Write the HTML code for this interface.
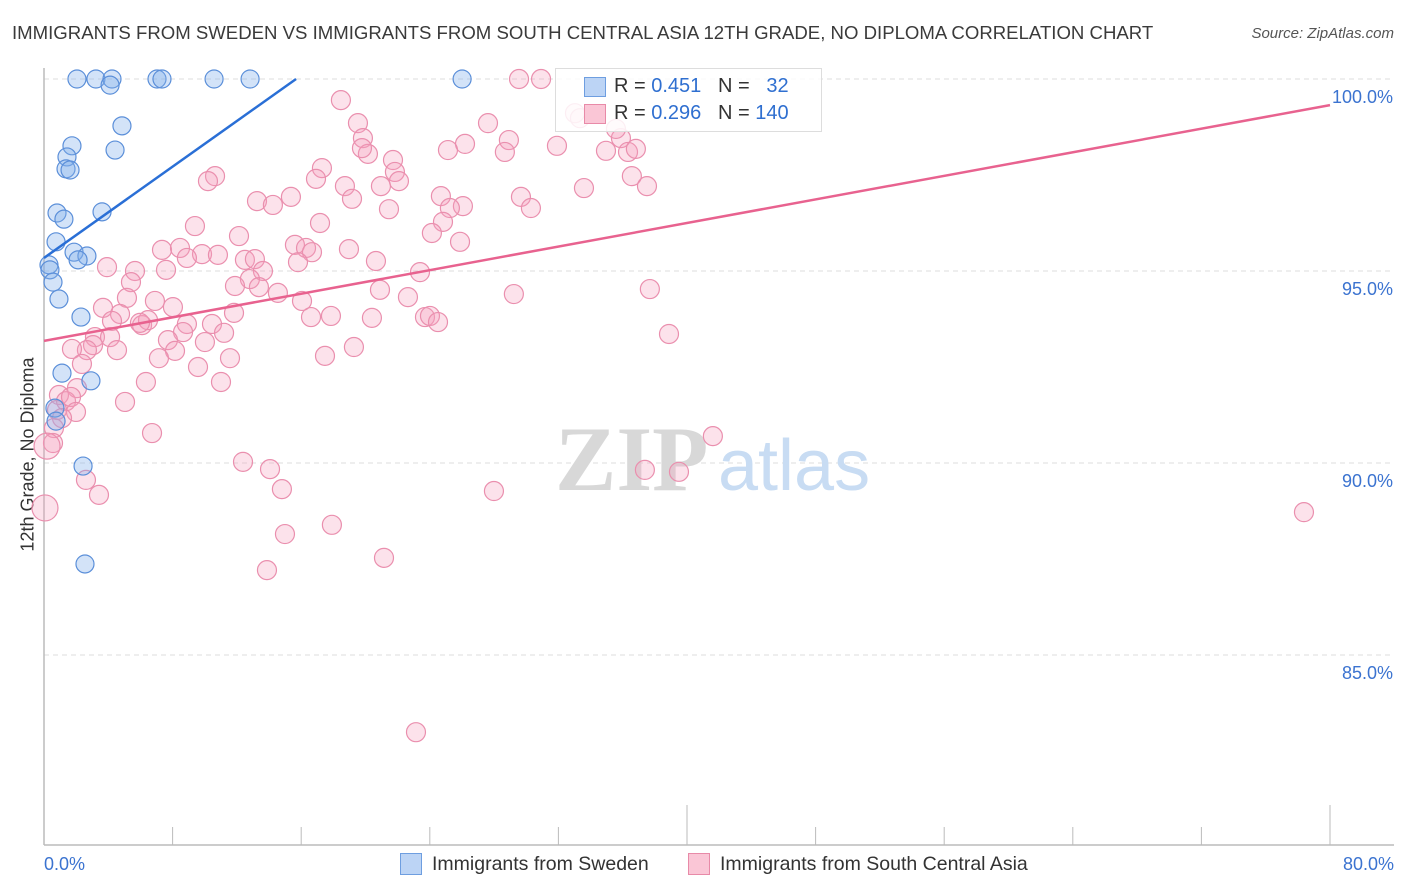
<!DOCTYPE html>
<html><head><meta charset="utf-8"><style>
body{margin:0;background:#fff;font-family:"Liberation Sans",sans-serif}
#wrap{position:relative;width:1406px;height:892px;overflow:hidden}
.t{position:absolute;white-space:nowrap}
</style></head><body>
<div id="wrap">
<div class="t" style="left:12px;top:22px;font-size:18.6px;color:#3a3a3a">IMMIGRANTS FROM SWEDEN VS IMMIGRANTS FROM SOUTH CENTRAL ASIA 12TH GRADE, NO DIPLOMA CORRELATION CHART</div>
<div class="t" style="right:12px;top:25px;font-size:15px;color:#555;font-style:italic">Source: ZipAtlas.com</div>
<div class="t" style="left:-102px;top:444px;width:260px;text-align:center;font-size:18px;color:#333;transform:rotate(-90deg)">12th Grade, No Diploma</div>
<svg id="svg" width="1406" height="892" style="position:absolute;left:0;top:0"></svg>
<div style="position:absolute;left:555px;top:68px;width:265px;height:62px;border:1px solid #ddd;background:rgba(255,255,255,.85)">
<div style="position:absolute;left:28px;top:8px;width:20px;height:18px;background:#bcd4f5;border:1px solid #6e9ee0"></div>
<div class="t" style="left:58px;top:6px;font-size:20px;color:#333">R = <span style="color:#2f6fd0">0.451</span>&nbsp;&nbsp;&nbsp;N = &nbsp;&nbsp;<span style="color:#2f6fd0">32</span></div>
<div style="position:absolute;left:28px;top:35px;width:20px;height:18px;background:#fac6d6;border:1px solid #e88aa8"></div>
<div class="t" style="left:58px;top:33px;font-size:20px;color:#333">R = <span style="color:#2f6fd0">0.296</span>&nbsp;&nbsp;&nbsp;N = <span style="color:#2f6fd0">140</span></div>
</div>
<div class="t" style="left:400px;top:853px;width:20px;height:20px;background:#bcd4f5;border:1px solid #6e9ee0"></div>
<div class="t" style="left:432px;top:853px;font-size:19.5px;color:#333">Immigrants from Sweden</div>
<div class="t" style="left:688px;top:853px;width:20px;height:20px;background:#fac6d6;border:1px solid #e88aa8"></div>
<div class="t" style="left:720px;top:853px;font-size:19.5px;color:#333">Immigrants from South Central Asia</div>
</div>
<script>
const xTicks=[0,8,16,24,32,40,48,56,64,72,80];
const yTicks=[100,95,90,85];
const yTickLabels=["100.0%","95.0%","90.0%","85.0%"];
const xEndLabels=["0.0%","80.0%"];
const swedenX=[2.05,3.23,4.23,4.11,7.03,7.34,10.58,12.82,26.01,4.85,4.42,1.74,1.43,1.37,1.62,0.81,1.24,3.61,0.75,1.87,2.67,2.12,0.31,0.37,0.56,0.93,2.30,1.12,2.92,0.68,0.75,2.43,2.55];
const swedenY=[100,100,100,99.84,100,100,100,100,100,98.78,98.15,98.26,97.97,97.66,97.63,96.51,96.35,96.54,95.76,95.49,95.39,95.29,95.16,95.03,94.71,94.27,93.80,92.34,92.14,91.43,91.09,89.92,87.37];
const asiaX=[29.55,30.92,18.47,33.03,33.34,27.62,19.53,19.84,26.19,28.92,31.91,35.89,34.96,36.33,36.82,35.58,25.13,28.67,20.15,19.78,21.71,21.83,17.29,36.57,37.51,33.59,24.69,22.08,18.72,20.96,15.36,16.92,13.25,14.24,10.64,10.20,29.67,30.29,26.06,25.25,19.16,21.46,24.82,17.17,9.39,24.13,12.13,25.88,15.61,18.97,16.30,16.67,7.34,8.46,9.83,10.82,8.89,12.50,13.12,15.80,20.65,3.92,7.59,5.66,13.62,12.81,5.41,11.88,13.37,23.39,37.69,29.23,20.90,22.64,14.55,5.16,6.90,16.05,3.67,8.02,11.82,4.73,4.23,6.10,6.47,5.97,8.89,10.45,8.65,16.61,17.85,20.40,23.70,24.01,24.51,38.88,7.71,11.20,3.17,4.11,3.05,2.67,10.01,1.74,4.54,8.15,19.28,7.15,11.57,17.48,2.36,9.58,6.34,11.01,2.05,0.93,1.37,1.68,5.04,0.81,1.99,1.12,0.62,0.56,0.19,6.72,41.61,12.38,14.06,37.38,39.50,2.61,14.80,3.42,27.99,0.06,78.38,17.91,14.99,21.15,13.87,23.14];
const asiaY=[100,100,99.45,99.11,98.98,98.85,98.85,98.46,98.31,98.41,98.26,98.46,98.13,98.10,98.18,98.70,98.15,98.10,98.05,98.20,97.89,97.58,97.68,97.47,97.21,97.16,96.95,97.34,97.21,97.21,96.93,97.40,96.82,96.72,97.47,97.34,96.93,96.64,96.69,96.64,96.88,96.61,96.28,96.25,96.17,95.99,95.91,95.76,95.68,95.57,95.60,95.49,95.55,95.60,95.44,95.42,95.34,95.29,95.31,95.23,95.26,95.10,95.03,95.00,95.00,94.79,94.71,94.61,94.58,94.97,94.53,94.40,94.51,94.32,94.43,94.30,94.22,94.22,94.04,94.06,93.91,93.88,93.70,93.59,93.72,93.65,93.62,93.62,93.41,93.80,93.83,93.78,93.80,93.83,93.67,93.36,93.20,93.39,93.28,93.28,93.07,92.94,93.15,92.97,92.94,92.92,93.02,92.73,92.73,92.79,92.58,92.50,92.11,92.11,91.95,91.77,91.61,91.72,91.59,91.38,91.33,91.17,90.91,90.52,90.44,90.78,90.70,90.03,89.84,89.82,89.77,89.56,89.32,89.17,89.27,88.83,88.72,88.39,88.15,87.53,87.21,82.99];
const swedenTrend=[[0,95.34],[15.68,100]];
const asiaTrend=[[0,93.18],[80,99.32]];
const X=v=>44+v/80*1286, Y=v=>79+(100-v)*38.4;
const svg=document.getElementById('svg'),NS='http://www.w3.org/2000/svg';
function mk(tag,a){const e=document.createElementNS(NS,tag);for(const k in a)e.setAttribute(k,a[k]);svg.appendChild(e);return e;}
yTicks.forEach((v,i)=>{
 const g=mk('line',{x1:44,x2:1394,y1:Y(v),y2:Y(v),stroke:'#ddd','stroke-dasharray':'5,4'});
 
 
 const t=mk('text',{x:1393,y:Y(v)+24,'text-anchor':'end','font-size':18,fill:'#3b73d0','font-family':'Liberation Sans'});t.textContent=yTickLabels[i];
 
 
});
const ax=mk('line',{x1:44,x2:1394,y1:845,y2:845,stroke:'#bbb','stroke-width':1.5});


const ay=mk('line',{x1:44,x2:44,y1:68,y2:845,stroke:'#bbb','stroke-width':1.5});


xTicks.forEach((v,i)=>{const l=mk('line',{x1:X(v),x2:X(v),y1:(i%5==0)?805:827,y2:845,stroke:'#bbb'});
 
 });
[[0,'start',44],[80,'end',1394]].forEach((d,i)=>{const t=mk('text',{x:d[2],y:870,'text-anchor':d[1],'font-size':18,fill:'#3b73d0','font-family':'Liberation Sans'});t.textContent=xEndLabels[i];
 
 });
const wm=mk('text',{x:555,y:490,'font-size':92,fill:'#d8d8d8','font-family':'Liberation Serif','font-weight':'bold'});wm.textContent='ZIP';


const wm2=mk('text',{x:718,y:490,'font-size':72,fill:'#c8dcf3','font-family':'Liberation Sans'});wm2.textContent='atlas';


asiaX.forEach((x,i)=>{const c=mk('circle',{cx:X(x),cy:Y(asiaY[i]),r:(x<0.3)?13:9.5,fill:'rgba(246,160,190,0.3)',stroke:'#ea8fae','stroke-width':1.2});
 
 });
swedenX.forEach((x,i)=>{const c=mk('circle',{cx:X(x),cy:Y(swedenY[i]),r:9,fill:'rgba(130,175,235,0.35)',stroke:'#5b8fd9','stroke-width':1.2});
 
 });
const t1=mk('line',{x1:X(swedenTrend[0][0]),y1:Y(swedenTrend[0][1]),x2:X(swedenTrend[1][0]),y2:Y(swedenTrend[1][1]),stroke:'#2a6fd6','stroke-width':2.5});


const t2=mk('line',{x1:X(asiaTrend[0][0]),y1:Y(asiaTrend[0][1]),x2:X(asiaTrend[1][0]),y2:Y(asiaTrend[1][1]),stroke:'#e8628f','stroke-width':2.5});


</script>
</body></html>
